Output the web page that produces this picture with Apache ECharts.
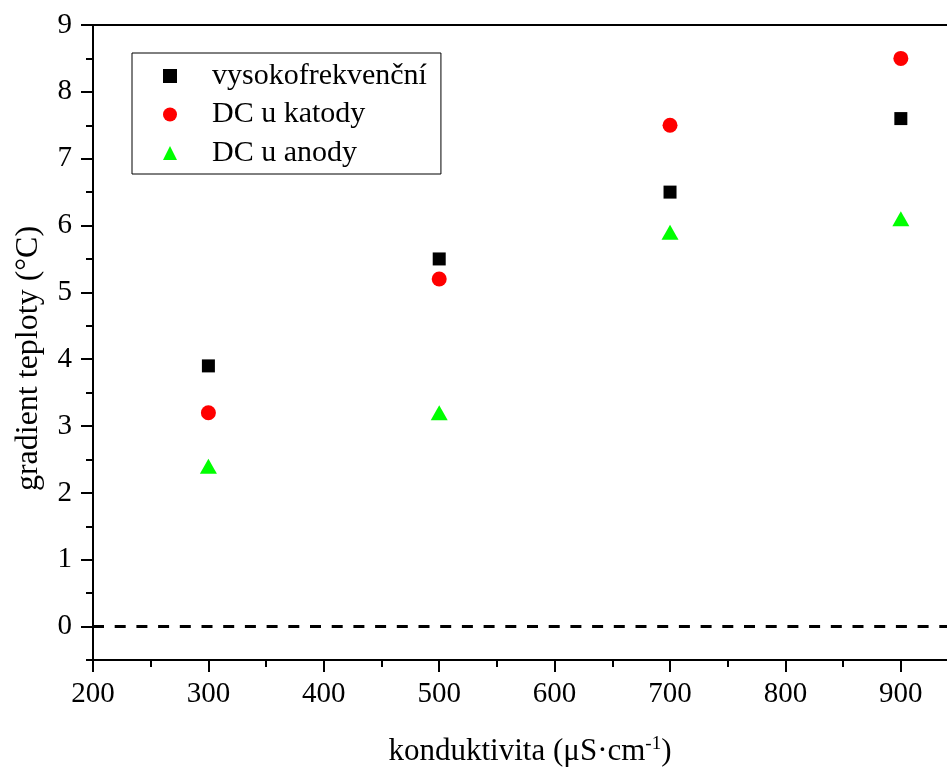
<!DOCTYPE html>
<html>
<head>
  <meta charset="utf-8"/>
  <script src="https://cdn.jsdelivr.net/npm/echarts@6.0.0/dist/echarts.min.js"></script>
  <style>
    html, body { margin: 0; padding: 0; background: #fff; }
    #chartmain { width: 947px; height: 767px; }
  </style>
</head>
<body>
  <div id="chartmain"></div>
  <script type="text/javascript">
    // data
    var konduktivita = [300, 500, 700, 900];
    var vysokofrekvencni = [3.9, 5.5, 6.5, 7.6];
    var dcKatoda = [3.2, 5.2, 7.5, 8.5];
    var dcAnoda = [2.4, 3.2, 5.9, 6.1];
    var xMajor = [200, 300, 400, 500, 600, 700, 800, 900];
    var xMinor = [250, 350, 450, 550, 650, 750, 850];
    var yMajor = [0, 1, 2, 3, 4, 5, 6, 7, 8, 9];
    var yMinor = [-0.5, 0.5, 1.5, 2.5, 3.5, 4.5, 5.5, 6.5, 7.5, 8.5];

    var font = 'Liberation Serif';

    function pairs(ys) {
      var out = [];
      for (var i = 0; i < konduktivita.length; i++) out.push([konduktivita[i], ys[i]]);
      return out;
    }

    var myChart = echarts.init(document.getElementById('chartmain'));
    var option = {
      animation: false,
      textStyle: { fontFamily: font, color: '#000' },
      grid: { left: 93, right: 0, top: 25, bottom: 107, containLabel: false, outerBoundsMode: 'none' },
      legend: {
        orient: 'vertical',
        left: 132,
        top: 53,
        padding: [8, 14, 6, 31],
        itemWidth: 14,
        itemHeight: 14,
        itemGap: 8.5,
        borderColor: '#000',
        borderWidth: 1,
        textStyle: { fontFamily: font, fontSize: 30, color: '#000', padding: [0, 0, 0, 30] },
        data: ['vysokofrekvenční', 'DC u katody', 'DC u anody']
      },
      xAxis: [{
        type: 'value',
        min: 200, max: 940,
        position: 'bottom',
        name: 'konduktivita (μS·cm{sup|-1})',
        nameLocation: 'middle',
        nameGap: 75,
        nameTextStyle: {
          fontFamily: font, fontSize: 31, color: '#000', padding: [0, 0, 0, 20],
          rich: { sup: { fontFamily: font, fontSize: 19, verticalAlign: 'top', padding: [0, 0, 14, 0] } }
        },
        splitLine: { show: false },
        axisLine: { onZero: false, lineStyle: { color: '#000', width: 2 } },
        axisTick: { customValues: xMajor, length: 12, lineStyle: { color: '#000', width: 2 } },
        axisLabel: { customValues: xMajor, margin: 20, fontFamily: font, fontSize: 29, color: '#000' }
      }, {
        type: 'value',
        min: 200, max: 940,
        position: 'bottom',
        offset: 0,
        splitLine: { show: false },
        axisLine: { show: false, onZero: false },
        axisTick: { customValues: xMinor, length: 7, lineStyle: { color: '#000', width: 2 } },
        axisLabel: { show: false }
      }, {
        type: 'value',
        min: 200, max: 940,
        position: 'top',
        splitLine: { show: false },
        axisLine: { onZero: false, lineStyle: { color: '#000', width: 2 } },
        axisTick: { show: false },
        axisLabel: { show: false }
      }],
      yAxis: [{
        type: 'value',
        min: -0.5, max: 9,
        position: 'left',
        name: 'gradient teploty (°C)',
        nameLocation: 'middle',
        nameGap: 48,
        nameTextStyle: { fontFamily: font, fontSize: 32, color: '#000', padding: [0, 32, 0, 0] },
        splitLine: { show: false },
        axisLine: { onZero: false, lineStyle: { color: '#000', width: 2 } },
        axisTick: { customValues: yMajor, length: 12, lineStyle: { color: '#000', width: 2 } },
        axisLabel: { customValues: yMajor, margin: 21, fontFamily: font, fontSize: 29, color: '#000' }
      }, {
        type: 'value',
        min: -0.5, max: 9,
        position: 'left',
        offset: 0,
        splitLine: { show: false },
        axisLine: { show: false, onZero: false },
        axisTick: { customValues: yMinor, length: 7, lineStyle: { color: '#000', width: 2 } },
        axisLabel: { show: false }
      }],
      series: [{
        name: 'vysokofrekvenční',
        type: 'scatter',
        symbol: 'rect',
        symbolSize: 13,
        itemStyle: { color: '#000', opacity: 1 },
        data: pairs(vysokofrekvencni),
        markLine: {
          silent: true,
          symbol: 'none',
          label: { show: false },
          lineStyle: { color: '#000', width: 3, type: [11, 10.7] },
          data: [{ yAxis: 0 }]
        }
      }, {
        name: 'DC u katody',
        type: 'scatter',
        symbol: 'circle',
        symbolSize: 15,
        itemStyle: { color: '#ff0000', opacity: 1 },
        data: pairs(dcKatoda)
      }, {
        name: 'DC u anody',
        type: 'scatter',
        symbol: 'triangle',
        symbolSize: [17, 15],
        itemStyle: { color: '#00ff00', opacity: 1 },
        data: pairs(dcAnoda)
      }]
    };
    myChart.setOption(option);
  </script>
</body>
</html>
